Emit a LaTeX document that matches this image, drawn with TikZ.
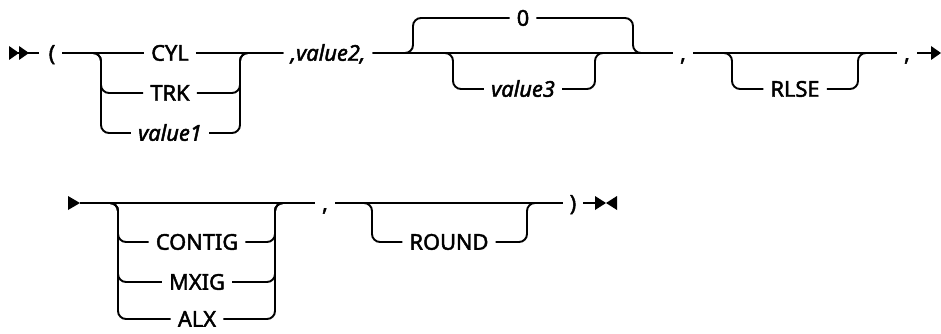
\documentclass[tikz,border=0pt]{standalone}
\usepackage{fontspec}
\setmainfont{Noto Sans}[FakeBold=2]
\begin{document}
\begin{tikzpicture}[x=1pt,y=-1pt,
  font=\fontsize{21.8}{26}\selectfont,
  rail/.style={draw, line width=1.9pt, rounded corners=8pt},
  line/.style={draw, line width=1.9pt},
  kw/.style={inner xsep=7pt, inner ysep=0pt, text height=15.5pt, text depth=0pt, anchor=center},
  tip/.style={fill=black, draw=none}]
\useasboundingbox (0,0) rectangle (941,334);

% ---------- row 1 ----------
\coordinate (st) at (9,53);
\coordinate (st1) at (39,53);
\fill[tip] (9,46) -- (19,53) -- (9,60) -- cycle;
\fill[tip] (19,46) -- (29,53) -- (19,60) -- cycle;
\draw[line] (st) -- (st1);
\node[kw] (lp) at (52,53) {(};
\node[kw] (cyl) at (170,53) {CYL};
\node[kw] (trk) at (170,93) {TRK};
\node[kw] (v1) at (170,133) {\itshape value1};
\node[kw] (v2) at (328,53) {\itshape ,value2,};
\node[kw] (zero) at (523,18) {0};
\node[kw] (v3) at (523,89) {\itshape value3};
\node[kw] (c1) at (683,53) {,};
\node[kw] (rlse) at (795,89) {RLSE};
\node[kw] (c2) at (907,53) {,};
\coordinate (a1) at (101,53);
\coordinate (a2) at (240,53);
\coordinate (u1) at (413,53);
\coordinate (u2) at (633,53);
\coordinate (b1) at (453,53);
\coordinate (b2) at (595,53);
\coordinate (r1) at (732,53);
\coordinate (r2) at (858,53);
\coordinate (e1) at (932,53);

\draw[line] (lp.east) -- (cyl.west);
\draw[line] (cyl.east) -- (v2.west);
\draw[rail] (lp.east) -| (a1 |- trk.west) -- (trk.west);
\draw[rail] (lp.east) -| (a1 |- v1.west) -- (v1.west);
\draw[rail] (trk.east) -| (a2) -- (v2.west);
\draw[rail] (v1.east) -| (a2) -- (v2.west);

\draw[line] (v2.east) -- (c1.west);
\draw[rail] (v2.east) -| (u1 |- zero.west) -- (zero.west);
\draw[rail] (zero.east) -| (u2) -- (c1.west);
\draw[rail] (v2.east) -| (b1 |- v3.west) -- (v3.west);
\draw[rail] (v3.east) -| (b2) -- (c1.west);

\draw[line] (c1.east) -- (c2.west);
\draw[rail] (c1.east) -| (r1 |- rlse.west) -- (rlse.west);
\draw[rail] (rlse.east) -| (r2) -- (c2.west);
\draw[line] (c2.east) -- (e1);
\fill[tip] (931,46) -- (941,53) -- (931,60) -- cycle;

% ---------- row 2 ----------
\coordinate (st2) at (80,203);
\fill[tip] (68,196) -- (80,203) -- (68,210) -- cycle;
\node[kw] (contig) at (197,242) {CONTIG};
\node[kw] (mxig) at (197,282) {MXIG};
\node[kw] (alx) at (197,319) {ALX};
\node[kw] (c3) at (325,203) {,};
\node[kw] (round) at (449,242) {ROUND};
\node[kw] (rp) at (573,203) {)};
\coordinate (d1) at (118,203);
\coordinate (d2) at (275,203);
\coordinate (g1) at (372,203);
\coordinate (g2) at (527,203);
\coordinate (e2) at (596,203);

\draw[line] (st2) -- (c3.west);
\draw[rail] (st2) -| (d1 |- contig.west) -- (contig.west);
\draw[rail] (st2) -| (d1 |- mxig.west) -- (mxig.west);
\draw[rail] (st2) -| (d1 |- alx.west) -- (alx.west);
\draw[rail] (contig.east) -| (d2) -- (c3.west);
\draw[rail] (mxig.east) -| (d2) -- (c3.west);
\draw[rail] (alx.east) -| (d2) -- (c3.west);

\draw[line] (c3.east) -- (rp.west);
\draw[rail] (c3.east) -| (g1 |- round.west) -- (round.west);
\draw[rail] (round.east) -| (g2) -- (rp.west);
\draw[line] (rp.east) -- (e2);
\fill[tip] (595,196) -- (606,203) -- (595,210) -- cycle;
\fill[tip] (617,196) -- (606,203) -- (617,210) -- cycle;
\end{tikzpicture}
\end{document}
